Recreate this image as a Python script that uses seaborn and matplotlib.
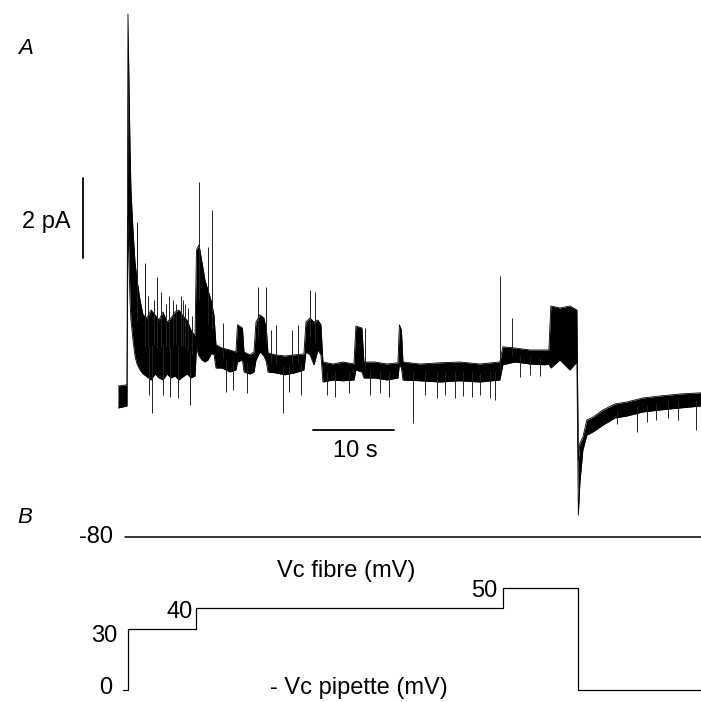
import numpy as np
import matplotlib
matplotlib.use("Agg")
import matplotlib.pyplot as plt
import seaborn as sns

# Panel A: single-channel current trace
# envelope of the noisy trace (time in s, upper / lower current in pA)
trace_t = [0.00, 1.11, 1.23, 1.36, 1.48, 1.60, 1.85, 2.10, 2.35, 2.72, 3.09,
           3.58, 4.07, 4.57, 5.06, 5.56, 6.05, 6.54, 7.04, 7.53, 8.02, 8.52,
           9.01, 9.51, 9.69, 10.00, 10.37, 10.74, 11.11, 11.48, 11.85, 12.10,
           12.84, 13.83, 14.57, 14.75, 15.37, 15.56, 16.30, 16.79, 17.04,
           17.53, 18.02, 18.33, 18.52, 19.38, 20.62, 21.85, 22.96, 23.21,
           23.70, 24.20, 24.69, 25.06, 25.31, 26.54, 27.78, 29.14, 29.38,
           30.12, 30.37, 31.73, 33.21, 34.57, 34.75, 35.00, 35.19, 37.28,
           39.75, 42.22, 44.69, 47.16, 47.53, 49.01, 50.86, 52.72, 53.21,
           53.46, 54.57, 55.80, 56.67, 56.85, 57.04, 57.41, 57.90, 58.64,
           59.88, 61.36, 62.84, 64.81, 66.91, 69.38, 71.98]
trace_hi = [0.35, 0.38, 9.65, 7.85, 6.35, 5.25, 4.25, 3.45, 3.00, 2.50, 2.13,
            2.05, 2.25, 2.13, 2.00, 2.20, 1.95, 2.05, 2.20, 2.25, 2.10, 2.00,
            1.75, 1.60, 3.75, 3.88, 3.45, 3.00, 2.75, 2.50, 2.13, 1.38,
            1.30, 1.25, 1.20, 1.88, 1.80, 1.20, 1.13, 1.20, 1.95,
            2.13, 2.05, 1.75, 1.18, 1.13, 1.10, 1.13, 1.15, 1.95,
            2.05, 1.95, 2.00, 1.88, 0.95, 0.90, 0.95, 0.90, 1.85,
            1.80, 0.95, 0.95, 0.90, 0.93, 1.88, 1.75, 0.95, 0.90,
            0.93, 0.95, 0.90, 0.95, 1.33, 1.30, 1.25, 1.25, 1.25,
            2.35, 2.30, 2.35, 2.25, -1.50, -1.08, -0.93, -0.50, -0.43,
            -0.25, -0.10, -0.05, 0.05, 0.10, 0.15, 0.18]
trace_lo = [-0.20, -0.15, 4.60, 3.50, 2.50, 2.00, 1.50, 1.10, 0.90, 0.75, 0.65,
            0.58, 0.50, 0.65, 0.55, 0.50, 0.65, 0.55, 0.60, 0.50, 0.58, 0.65,
            0.55, 0.60, 1.30, 1.10, 1.00, 0.95, 1.00, 1.15, 1.15, 0.80,
            0.80, 0.70, 0.75, 0.95, 1.00, 0.70, 0.65, 0.70, 1.00,
            1.20, 1.10, 0.95, 0.70, 0.68, 0.63, 0.68, 0.75, 1.20,
            1.13, 0.88, 1.25, 1.13, 0.45, 0.50, 0.48, 0.50, 0.75,
            0.70, 0.55, 0.55, 0.50, 0.55, 0.88, 0.80, 0.50, 0.48,
            0.45, 0.48, 0.45, 0.50, 0.88, 0.95, 0.90, 0.88, 0.90,
            0.80, 1.00, 0.75, 0.95, -2.88, -2.08, -1.25, -0.88, -0.80,
            -0.63, -0.45, -0.40, -0.30, -0.25, -0.20, -0.15]

# brief openings / closings sticking out of the band (time in s, tip in pA)
spike_t = [2.35, 3.33, 3.70, 3.83, 4.20, 4.40, 4.81, 5.30, 5.56, 5.90, 6.30,
           6.42, 6.80, 7.20, 7.41, 7.80, 8.02, 8.30, 8.70, 8.89, 9.20,
           10.00, 11.11, 11.60, 12.96, 13.33, 14.20, 15.93, 17.28, 18.27,
           18.89, 19.51, 20.37, 21.11, 21.48, 22.22, 22.59, 23.70, 24.32,
           25.80, 26.79, 28.52, 30.49, 31.11, 32.35, 33.46, 36.42, 37.90,
           39.38, 40.37, 41.60, 42.59, 43.70, 44.69, 45.93, 46.54, 47.16,
           48.64, 49.63, 50.86, 52.10, 61.60, 64.07, 65.30, 66.50, 67.90,
           69.10, 71.40]
spike_tip = [4.45, 3.43, 2.60, 0.13, -0.33, 2.50, 3.08, 2.70, 0.13, 2.40, 2.60,
             0.08, 2.50, 2.40, 0.05, 2.60, 2.50, 2.40, 2.30, -0.13, 2.10,
             5.45, 3.83, 4.75, 1.93, 0.20, 0.25, 0.18, 2.83, 2.83,
             1.75, 1.88, -0.33, 0.20, 1.75, 1.88, 0.13, 2.75, 2.70,
             0.13, 0.08, 0.18, 1.80, 0.13, 0.18, 0.08, -0.58, 0.13,
             0.05, 0.13, 0.05, 0.10, 0.08, 0.13, 0.05, 0.00, 3.10,
             2.05, 0.58, 0.63, 0.60, -0.60, -0.80, -0.55, -0.50, -0.45,
             -0.50, -0.75]

# Panel B: command voltages
fibre_t = [0.86, 72.0]
fibre_v = [-80, -80]
pipette_t = [0.62, 1.23, 9.63, 47.5, 56.8, 72.0]
pipette_v = [0, 30, 40, 50, 0, 0]

sns.set_style("white")
plt.rcParams["font.family"] = ["Liberation Sans", "DejaVu Sans"]
plt.rcParams["text.color"] = "black"
FS = 17

fig = plt.figure(figsize=(7.01, 7.02), dpi=100)
W, H = 701.0, 702.0

# panel A axes: x 118..701 px, y 0..520 px
ax_a = fig.add_axes([118 / W, 1 - 520 / H, 583 / W, 520 / H])
ax_a.set_xlim(0, 72)
ax_a.set_ylim(-3, 10)
ax_a.axis("off")

ax_a.fill_between(trace_t, trace_lo, trace_hi, color="black", lw=0)
sns.lineplot(x=trace_t, y=trace_hi, ax=ax_a, color="black", lw=0.6,
             estimator=None, sort=False)
sns.lineplot(x=trace_t, y=trace_lo, ax=ax_a, color="black", lw=0.6,
             estimator=None, sort=False)
mid = (np.array(trace_hi) + np.array(trace_lo)) / 2
spike_base = np.interp(spike_t, trace_t, mid)
ax_a.vlines(spike_t, spike_base, spike_tip, color="#222222", lw=0.7)

# scale bars
ax_a.plot([-4.32, -4.32], [3.55, 5.55], color="black", lw=1.3, clip_on=False)
ax_a.text(-5.8, 4.45, "2 pA", ha="right", va="center", fontsize=FS)
ax_a.plot([24.07, 34.07], [-0.75, -0.75], color="black", lw=1.3)
ax_a.text(29.26, -1.28, "10 s", ha="center", va="center", fontsize=FS)
ax_a.text(-11.48, 8.78, "A", ha="center", va="center", fontsize=16,
          style="italic", clip_on=False)

# panel B axes: pipette voltage (mV)
ax_b = fig.add_axes([118 / W, 0, 583 / W, 182 / H])
ax_b.set_xlim(0, 72)
ax_b.set_ylim(-5.88, 83.33)
ax_b.axis("off")
sns.lineplot(x=pipette_t, y=pipette_v, ax=ax_b, color="black", lw=0.9,
             drawstyle="steps-post", estimator=None, sort=False)

# fibre voltage in a thin axes of its own
ax_f = fig.add_axes([118 / W, 1 - 547 / H, 583 / W, 20 / H])
ax_f.set_xlim(0, 72)
ax_f.set_ylim(-90, -70)
ax_f.axis("off")
sns.lineplot(x=fibre_t, y=fibre_v, ax=ax_f, color="black", lw=1.1,
             estimator=None, sort=False)
ax_f.text(-0.62, -80, "-80", ha="right", va="center", fontsize=FS)

ax_b.text(-11.48, 84.8, "B", ha="center", va="center", fontsize=16,
          style="italic", clip_on=False)
ax_b.text(28.15, 58.3, "Vc fibre (mV)", ha="center", va="center", fontsize=FS)
ax_b.text(-0.12, 26.5, "30", ha="right", va="center", fontsize=FS)
ax_b.text(9.26, 38.0, "40", ha="right", va="center", fontsize=FS)
ax_b.text(46.8, 48.3, "50", ha="right", va="center", fontsize=FS)
ax_b.text(-0.74, 0.8, "0", ha="right", va="center", fontsize=FS)
ax_b.text(29.75, 0.8, "- Vc pipette (mV)", ha="center", va="center", fontsize=FS)

fig.savefig("out.png", dpi=100)
